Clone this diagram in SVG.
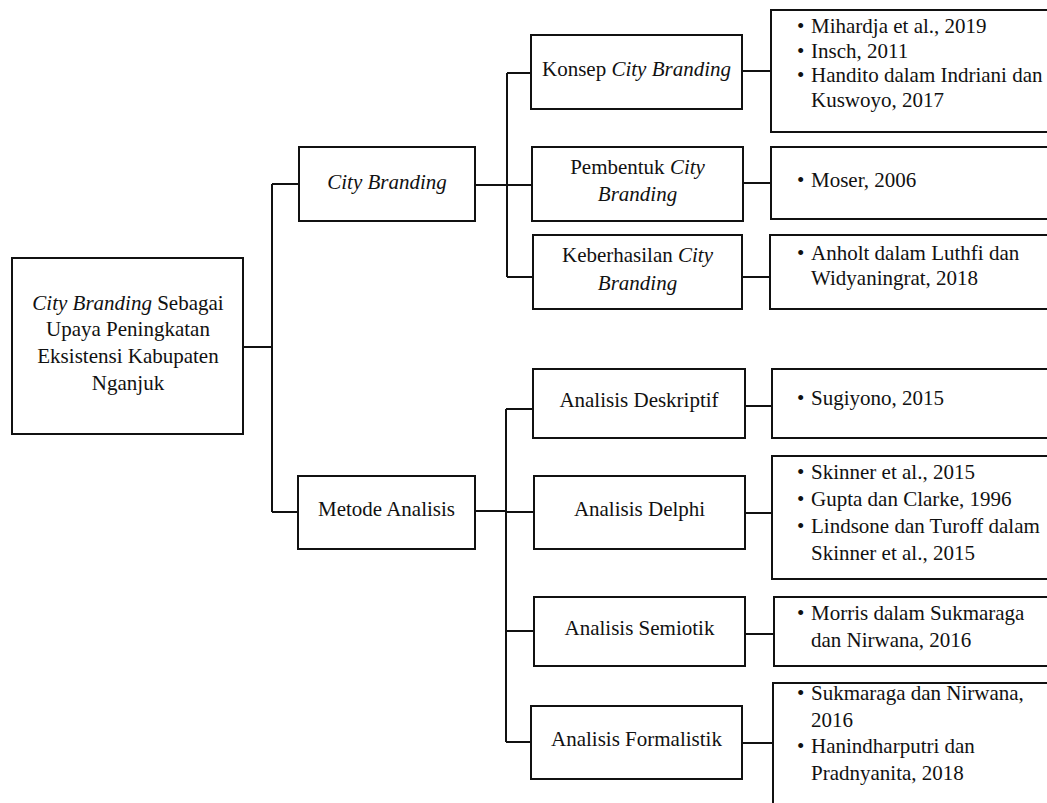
<svg xmlns="http://www.w3.org/2000/svg" width="1047" height="803" viewBox="0 0 1047 803">
<style>
.box{fill:#fff;stroke:#111;stroke-width:2}
.ln{fill:none;stroke:#111;stroke-width:2}
text{font-family:'Liberation Serif','DejaVu Serif',serif;font-size:21px;fill:#111}
.c{text-anchor:middle}
.i{font-style:italic}
</style>
<rect width="1047" height="803" fill="#fff"/>
<g id="connectors">
<path class="ln" d="M243 347H272M272 184V512M272 184H299M272 512H298"/>
<path class="ln" d="M475 185H507M507 73V277M507 73H531M507 185H532M507 277H533"/>
<path class="ln" d="M742 71H771M743 183H771M742 277H770"/>
<path class="ln" d="M475 511H506M506 409V742M506 409H533M506 512H534M506 631H534M506 742H531"/>
<path class="ln" d="M745 406H772M745 513H772M745 634H774M742 743H773"/>
</g>
<g id="root">
<rect class="box" x="12" y="258" width="231" height="176"/>
<text class="c" x="128" y="310"><tspan class="i">City Branding</tspan> Sebagai</text>
<text class="c" x="128" y="336">Upaya Peningkatan</text>
<text class="c" x="128" y="363">Eksistensi Kabupaten</text>
<text class="c" x="128" y="390">Nganjuk</text>
</g>
<g id="city-branding">
<rect class="box" x="299" y="147" width="176" height="74"/>
<text class="c i" x="387" y="189">City Branding</text>
</g>
<g id="metode-analisis">
<rect class="box" x="298" y="476" width="177" height="73"/>
<text class="c" x="386.5" y="516">Metode Analisis</text>
</g>
<g id="konsep">
<rect class="box" x="531" y="35" width="211" height="74"/>
<text class="c" x="636.5" y="76">Konsep <tspan class="i">City Branding</tspan></text>
</g>
<g id="pembentuk">
<rect class="box" x="532" y="147" width="211" height="74"/>
<text class="c" x="637.5" y="174">Pembentuk <tspan class="i">City</tspan></text>
<text class="c i" x="637.5" y="201">Branding</text>
</g>
<g id="keberhasilan">
<rect class="box" x="533" y="235" width="209" height="74"/>
<text class="c" x="637.5" y="262">Keberhasilan <tspan class="i">City</tspan></text>
<text class="c i" x="637.5" y="290">Branding</text>
</g>
<g id="deskriptif">
<rect class="box" x="533" y="369" width="212" height="69"/>
<text class="c" x="639" y="407">Analisis Deskriptif</text>
</g>
<g id="delphi">
<rect class="box" x="534" y="476" width="211" height="73"/>
<text class="c" x="639.5" y="516">Analisis Delphi</text>
</g>
<g id="semiotik">
<rect class="box" x="534" y="597" width="211" height="69"/>
<text class="c" x="639.5" y="635">Analisis Semiotik</text>
</g>
<g id="formalistik">
<rect class="box" x="531" y="706" width="211" height="73"/>
<text class="c" x="636.5" y="746">Analisis Formalistik</text>
</g>
<g id="ref-konsep">
<rect class="box" x="771" y="10" width="300" height="122"/>
<text x="797" y="33">•</text><text x="811" y="33">Mihardja et al., 2019</text>
<text x="797" y="58">•</text><text x="811" y="58">Insch, 2011</text>
<text x="797" y="82">•</text><text x="811" y="82">Handito dalam Indriani dan</text>
<text x="811" y="107">Kuswoyo, 2017</text>
</g>
<g id="ref-pembentuk">
<rect class="box" x="771" y="147" width="300" height="72"/>
<text x="797" y="187">•</text><text x="811" y="187">Moser, 2006</text>
</g>
<g id="ref-keberhasilan">
<rect class="box" x="770" y="235" width="300" height="74"/>
<text x="797" y="260">•</text><text x="811" y="260">Anholt dalam Luthfi dan</text>
<text x="811" y="285">Widyaningrat, 2018</text>
</g>
<g id="ref-deskriptif">
<rect class="box" x="772" y="369" width="300" height="69"/>
<text x="797" y="405">•</text><text x="811" y="405">Sugiyono, 2015</text>
</g>
<g id="ref-delphi">
<rect class="box" x="772" y="456" width="300" height="123"/>
<text x="797" y="479">•</text><text x="811" y="479">Skinner et al., 2015</text>
<text x="797" y="506">•</text><text x="811" y="506">Gupta dan Clarke, 1996</text>
<text x="797" y="533">•</text><text x="811" y="533">Lindsone dan Turoff dalam</text>
<text x="811" y="560">Skinner et al., 2015</text>
</g>
<g id="ref-semiotik">
<rect class="box" x="774" y="597" width="300" height="69"/>
<text x="797" y="620">•</text><text x="811" y="620">Morris dalam Sukmaraga</text>
<text x="811" y="647">dan Nirwana, 2016</text>
</g>
<g id="ref-formalistik">
<rect class="box" x="773" y="683" width="300" height="140"/>
<text x="797" y="700">•</text><text x="811" y="700">Sukmaraga dan Nirwana,</text>
<text x="811" y="727">2016</text>
<text x="797" y="753">•</text><text x="811" y="753">Hanindharputri dan</text>
<text x="811" y="780">Pradnyanita, 2018</text>
</g>
</svg>
